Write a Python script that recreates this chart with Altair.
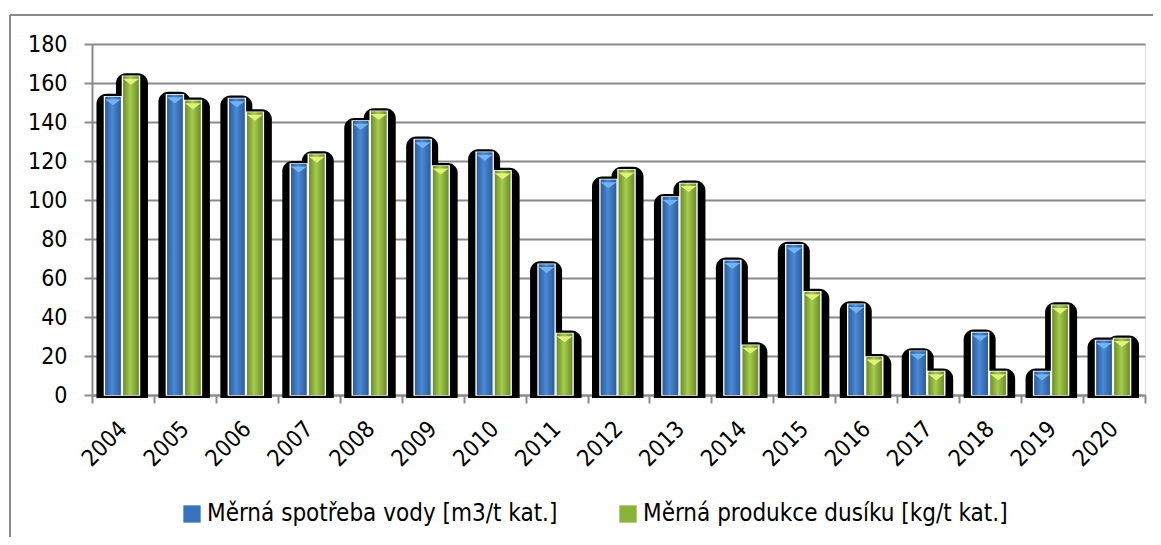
import altair as alt
import pandas as pd

years = [str(y) for y in range(2004, 2021)]
voda = [153, 154, 152, 118.5, 140.5, 131, 124.5, 67, 110.5, 101.5, 69, 77, 46.5, 22.5, 32, 12, 28]
dusik = [163.5, 151, 145, 123.5, 145.5, 117.5, 115, 31.5, 115.5, 108.5, 25.5, 53, 19.5, 12, 12, 46, 29]
series = ["Měrná spotřeba vody [m3/t kat.]", "Měrná produkce dusíku [kg/t kat.]"]

rows = []
for i, y in enumerate(years):
    rows.append({"rok": y, "serie": series[0], "hodnota": voda[i]})
    rows.append({"rok": y, "serie": series[1], "hodnota": dusik[i]})
df = pd.DataFrame(rows)
df_v = df[df.serie == series[0]]
df_d = df[df.serie == series[1]]

FONT = "DejaVu Sans Condensed"
GRID = "#8a8a8a"
W, H = 1053, 351

xenc = alt.X("rok:N", sort=years, title=None,
             scale=alt.Scale(paddingInner=0, paddingOuter=0),
             axis=alt.Axis(labelAngle=-45, labelAlign="right", labelBaseline="middle",
                           labelFontSize=23, labelFont=FONT, labelColor="#000",
                           labelPadding=22, tickBand="extent", tickSize=8,
                           tickColor=GRID, tickWidth=2, domainColor=GRID, domainWidth=2,
                           grid=False))
yenc = alt.Y("hodnota:Q", title=None,
             scale=alt.Scale(domain=[0, 180], nice=False),
             axis=alt.Axis(values=list(range(0, 181, 20)), labelFontSize=23, labelFont=FONT,
                           labelColor="#000", labelPadding=17, tickSize=8, tickColor=GRID,
                           tickWidth=2, domainColor=GRID, domainWidth=2,
                           gridColor=GRID, gridWidth=2))

BW = 17
SW = 32
OB, OG = -10, 8

def grad(dark, light):
    return alt.LinearGradient(gradient="linear", x1=0, x2=1, y1=0, y2=0,
                              stops=[alt.GradientStop(color=dark, offset=0),
                                     alt.GradientStop(color=light, offset=0.45),
                                     alt.GradientStop(color=dark, offset=1)])

shadow_v = alt.Chart(df_v).mark_bar(color="#000", width=SW, xOffset=OB - 0.5, yOffset=-3, y2Offset=3,
                                    cornerRadiusTopLeft=10, cornerRadiusTopRight=10).encode(
    x=xenc, y=yenc, y2=alt.datum(0))
shadow_d = alt.Chart(df_d).mark_bar(color="#000", width=SW, xOffset=OG + 1, yOffset=-3, y2Offset=3,
                                    cornerRadiusTopLeft=10, cornerRadiusTopRight=10).encode(
    x=xenc, y=yenc, y2=alt.datum(0))

base_v = alt.Chart(df_v).mark_bar(width=BW, xOffset=OB, stroke="white", strokeWidth=1.5).encode(
    x=xenc, y=yenc,
    color=alt.Color("serie:N", sort=series,
                    scale=alt.Scale(domain=series, range=["#3a73bd", "#8cb23c"]),
                    legend=alt.Legend(title=None, orient="none", legendX=88, legendY=458,
                                      direction="horizontal", symbolType="square",
                                      symbolSize=300, symbolStrokeWidth=0,
                                      labelFont=FONT, labelFontSize=24, labelColor="#000",
                                      labelLimit=0, columnPadding=58, labelOffset=3)))
base_d = alt.Chart(df_d).mark_bar(width=BW, xOffset=OG, stroke="white", strokeWidth=1.5).encode(
    x=xenc, y=yenc, color=alt.Color("serie:N", sort=series))

grad_v = alt.Chart(df_v).mark_bar(width=BW - 1.5, xOffset=OB, color=grad("#2d5c9a", "#4a8ad6")).encode(
    x=xenc, y=yenc)
grad_d = alt.Chart(df_d).mark_bar(width=BW - 1.5, xOffset=OG, color=grad("#6c8d2a", "#a6cc4c")).encode(
    x=xenc, y=yenc)

CHEV = "M-1,-0.3L1,-0.3L0,0.45Z"
chev_v = alt.Chart(df_v).mark_point(shape=CHEV, filled=True, size=256, xOffset=OB, yOffset=5,
                                    color="#72b4f2", opacity=1, strokeWidth=0).encode(x=xenc, y=yenc)
chev_d = alt.Chart(df_d).mark_point(shape=CHEV, filled=True, size=256, xOffset=OG, yOffset=5,
                                    color="#dff27a", opacity=1, strokeWidth=0).encode(x=xenc, y=yenc)

one = alt.Data(values=[{"a": 1}])
border_top = alt.Chart(one).mark_rule(color=GRID, strokeWidth=2).encode(
    x=alt.value(-82), x2=alt.value(W + 8), y=alt.value(-29))
border_left = alt.Chart(one).mark_rule(color=GRID, strokeWidth=2).encode(
    x=alt.value(-82), y=alt.value(-29), y2=alt.value(H + 142))

chart = alt.layer(border_top, border_left, shadow_v, shadow_d, base_v, base_d,
                  grad_v, grad_d, chev_v, chev_d).properties(
    width=W, height=H,
    padding={"left": 84, "top": 36, "right": 8, "bottom": 142},
    autosize=alt.AutoSizeParams(type="none"),
).configure_view(stroke=None).configure(background="white")

chart.save("out.html", embed_options={"renderer": "svg", "actions": False})
